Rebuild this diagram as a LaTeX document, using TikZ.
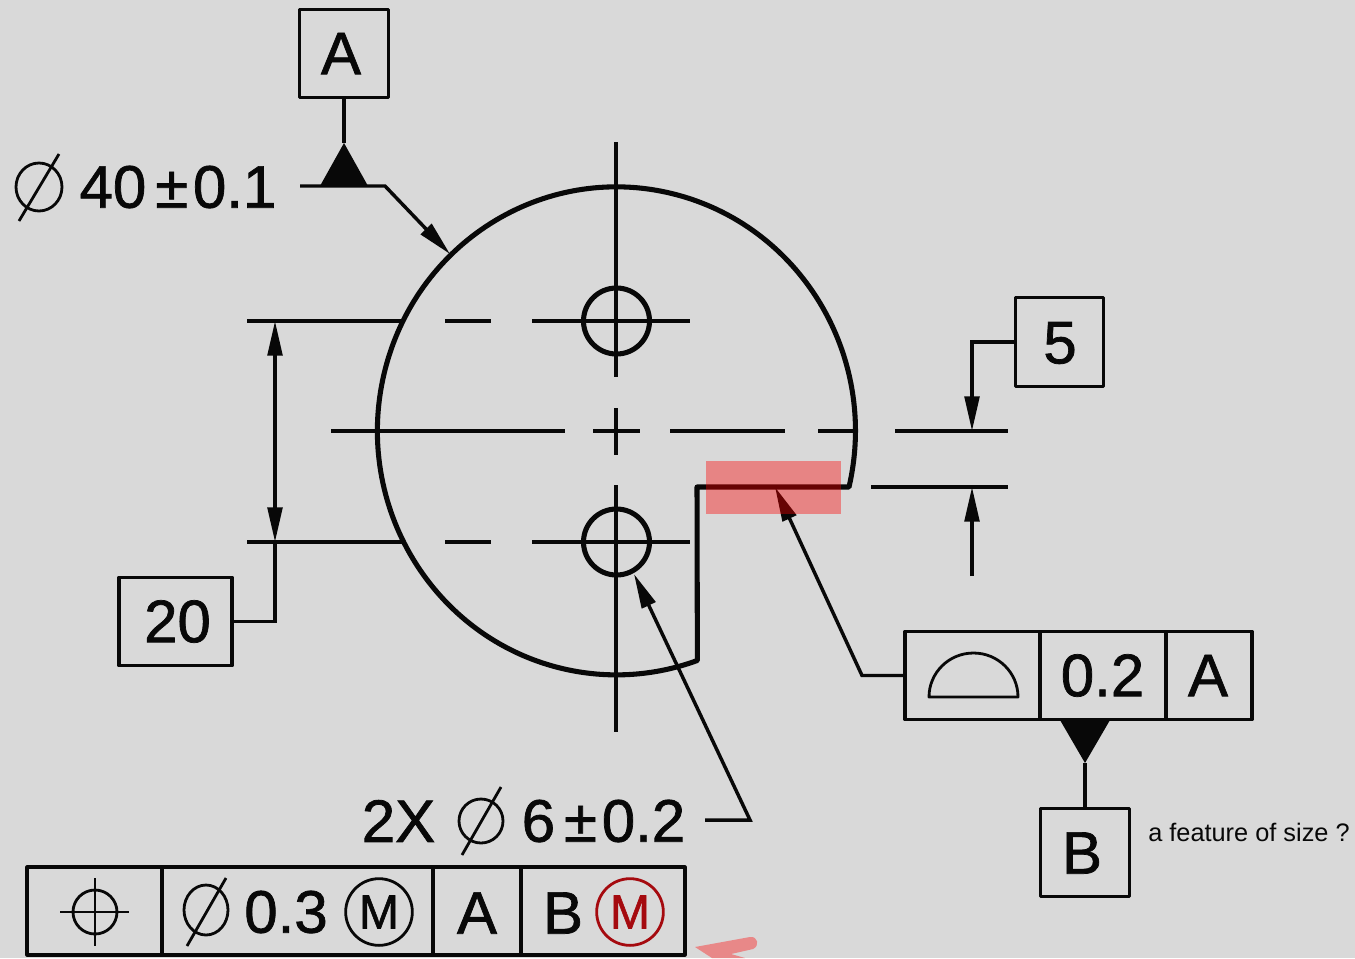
\documentclass[tikz,border=0pt]{standalone}
\usepackage{fontspec}
\setmainfont{Liberation Sans}
\newfontfamily\heavyfont[FakeBold=1.2]{Liberation Sans}
\usetikzlibrary{arrows.meta}

\definecolor{paper}{RGB}{217,217,217}
\definecolor{ink}{RGB}{8,8,8}
\definecolor{markred}{RGB}{165,10,15}
\definecolor{arrowpink}{RGB}{232,136,136}

\tikzset{
	outline/.style={ink,line width=3.8pt,line join=round},
	thin line/.style={ink,line width=2.6pt},
	sym line/.style={ink,line width=2.1pt},
	frame box/.style={draw=ink,line width=2.3pt,inner sep=0pt,outer sep=0pt,line join=round},
	datum box/.style={frame box,minimum width=66.5pt,minimum height=66.5pt},
	cell box/.style={frame box},
	label big/.style={ink,inner sep=0pt,font=\heavyfont\fontsize{45}{50}\selectfont},
	label mark/.style={ink,inner sep=0pt,font=\heavyfont\fontsize{36}{40}\selectfont},
	leader tip/.style={-{Triangle[length=26pt,width=11pt]}},
	hole/.style={circle,draw=ink,line width=3.8pt,minimum size=49.5pt,inner sep=0pt,outer sep=0pt}}

\begin{document}
\begin{tikzpicture}[x=0.75pt,y=0.75pt,yscale=-1,xscale=1]
	\useasboundingbox (0,0) rectangle (1355,958);
	\fill[paper] (0,0) rectangle (1355,958);

	%Coordinates for free ends
	\coordinate (tipbody) at (450,254);
	\coordinate (elbowbody) at (385,186);
	\coordinate (startbody) at (300,186);
	\coordinate (apexA) at (344,143);
	\coordinate (tiphole) at (634,574);
	\coordinate (elbowhole) at (750,820);
	\coordinate (starthole) at (705,820);
	\coordinate (tipflat) at (775,487);
	\coordinate (elbowflat) at (862,675.5);
	\coordinate (dimtop) at (275,321);
	\coordinate (dimbot) at (275,542);
	\coordinate (steptop) at (972,431);
	\coordinate (stepbot) at (972,487);
	\coordinate (stepfree) at (972,576);
	\coordinate (apexB) at (1085,763);

	%Shape: Outline of the part
	\draw [outline] (849,487) arc[x radius=239,y radius=244,start angle=13.3,end angle=-289.8] -- (697,487) -- cycle ;

	% Holes
	\node [hole] (holeup) at (616.5,321) {};
	\node [hole] (holedown) at (616.5,542) {};

	%Straight Lines: vertical centre line
	\draw [thin line] (616,142) -- (616,377) ;
	\draw [thin line] (616,408) -- (616,455) ;
	\draw [thin line] (616,485) -- (616,732) ;
	%Straight Lines: horizontal centre line
	\draw [thin line] (331,431) -- (565,431) ;
	\draw [thin line] (593,431) -- (640,431) ;
	\draw [thin line] (670,431) -- (785,431) ;
	\draw [thin line] (818,431) -- (858,431) ;
	\draw [thin line] (895,431) -- (1008,431) ;
	\draw [thin line] (871,487) -- (1008,487) ;
	%Straight Lines: hole centre lines
	\draw [thin line] (247,321) -- (405,321) ;
	\draw [thin line] (445,321) -- (491,321) ;
	\draw [thin line] (532,321) -- (690,321) ;
	\draw [thin line] (247,542) -- (405,542) ;
	\draw [thin line] (445,542) -- (491,542) ;
	\draw [thin line] (532,542) -- (690,542) ;

	% Datum A
	\node [datum box] (boxA) at (344,53.5) {};
	\node [label big] (letterA) at (341,53.5) {A};
	\draw [thin line] (boxA.south) -- (apexA) ;
	\fill [ink] (apexA) -- (320,186) -- (368,186) -- cycle ;
	\draw [thin line,leader tip] (startbody) -- (elbowbody) -- (tipbody) ;

	% Diameter 40
	\draw [sym line] (39,187) ellipse (23 and 24) ;
	\draw [sym line] (19,221) -- (59,154) ;
	\node [label big] (sizebody) at (178,187) {40\hspace{0.15em}±\hspace{0.08em}0.1};

	% Dimension 20
	\node [cell box,minimum width=84.75pt,minimum height=66.5pt] (box20) at (175.5,621.5) {};
	\node [label big] (value20) at (177.5,621.5) {20};
	\draw [thin line] (box20.east) -| (dimbot) ;
	\draw [thin line,{Triangle[length=26pt,width=11pt]}-{Triangle[length=26pt,width=11pt]}] (dimtop) -- (dimbot) ;

	% Dimension 5
	\node [datum box] (box5) at (1059.5,342) {};
	\node [label big] (value5) at (1060,343) {5};
	\draw [thin line,leader tip] (box5.west) -| (steptop) ;
	\draw [thin line,leader tip] (stepfree) -- (stepbot) ;

	% Profile frame
	\node [cell box,minimum width=101.25pt,minimum height=66.25pt] (cellflat) at (972.5,675.5) {};
	\node [cell box,minimum width=94.5pt,minimum height=66.25pt] (cellflatval) at (1103,675.5) {};
	\node [cell box,minimum width=64.5pt,minimum height=66.25pt] (cellflatA) at (1209,675.5) {};
	\node [label big] (valueflat) at (1102.5,675.5) {0.2};
	\node [label big] (letterflat) at (1208,675.5) {A};
	\draw [sym line,line join=round] (929,697) arc[x radius=44.5,y radius=44,start angle=180,end angle=360] -- cycle ;
	\draw [thin line,leader tip] (cellflat.west) -- (elbowflat) -- (tipflat) ;

	% Datum B
	\node [datum box] (boxB) at (1085,852.5) {};
	\node [label big] (letterB) at (1082,853) {B};
	\fill [ink] (1060,720) -- (1110,720) -- (apexB) -- cycle ;
	\draw [thin line] (apexB) -- (boxB.north) ;
	\node [ink,inner sep=0pt,anchor=base west,font=\fontsize{19}{22}\selectfont] (noteB) at (1148,841) {a feature of size ?};

	% Hole callout
	\node [label big] (count) at (398.5,821) {2X};
	\draw [sym line] (481,821) ellipse (22 and 22) ;
	\draw [sym line] (462,855) -- (501,787) ;
	\node [label big] (sizehole) at (603.5,821) {6\hspace{0.15em}±\hspace{0.08em}0.2};
	\draw [thin line,leader tip] (starthole) -- (elbowhole) -- (tiphole) ;

	% Position frame
	\node [cell box,minimum width=101.25pt,minimum height=66pt] (cellpos) at (94.5,911) {};
	\node [cell box,minimum width=203.25pt,minimum height=66pt] (celltol) at (297.5,911) {};
	\node [cell box,minimum width=66pt,minimum height=66pt] (cellA) at (477,911) {};
	\node [cell box,minimum width=123pt,minimum height=66pt] (cellB) at (603,911) {};
	%Shape: Position symbol
	\draw [sym line] (95,912) circle (22) ;
	\draw [sym line] (60,912) -- (129,912) ;
	\draw [sym line] (95,878) -- (95,946) ;
	% Tolerance
	\draw [sym line] (206,910) ellipse (22 and 25) ;
	\draw [sym line] (187,946) -- (226,878) ;
	\node [label big] (tol) at (286,912) {0.3};
	\node [label mark,circle,draw=ink,line width=2.1pt,minimum size=50pt] (modM) at (379,912) {M};
	\node [label big] (letterA2) at (477,913) {A};
	\node [label big] (refB) at (563,913) {B};
	\node [label mark,circle,draw=markred,text=markred,line width=2.1pt,minimum size=50pt] (modMred) at (630,912) {M};

	%Shape: Highlight
	\fill [red,fill opacity=0.39] (706,461) rectangle (841,514) ;
	%Shape: Pink arrow
	\fill [arrowpink] (695,947) -- (750,937) .. controls (758,936) and (760,946) .. (753,949) -- (731,954) -- (745,958) -- (712,958) -- cycle ;

\end{tikzpicture}
\end{document}
